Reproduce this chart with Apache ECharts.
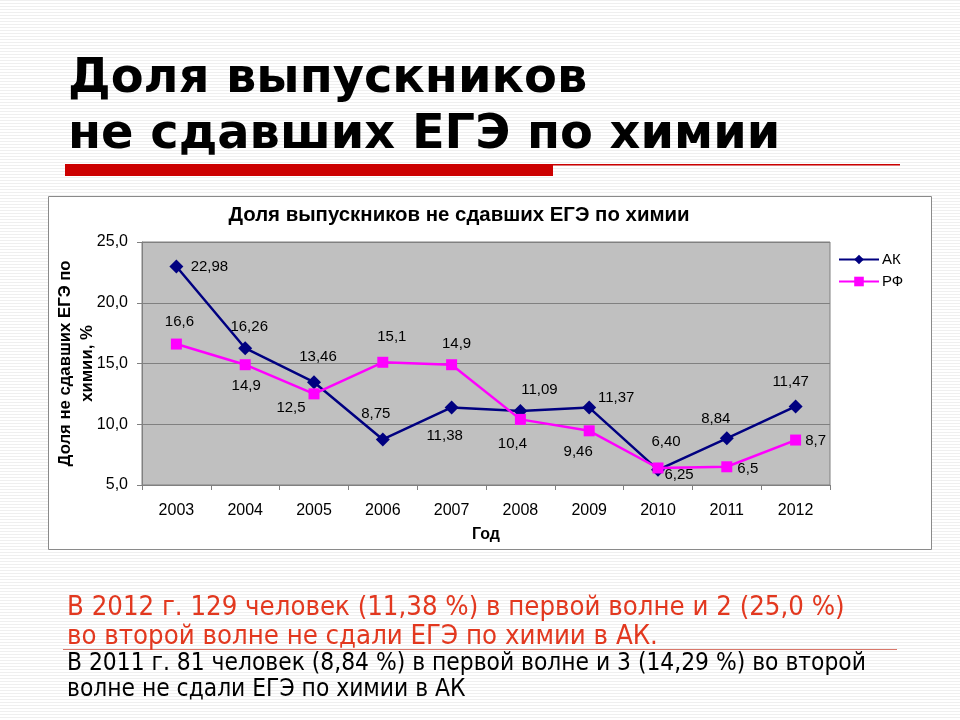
<!DOCTYPE html>
<html><head><meta charset="utf-8">
<script src="https://cdn.jsdelivr.net/npm/echarts@6/dist/echarts.min.js"></script>
<style>html,body{margin:0;padding:0;background:#fff}#c{width:960px;height:720px}</style>
</head><body><div id="c"></div>
<script>
// ---- data ----
const years = ['2003','2004','2005','2006','2007','2008','2009','2010','2011','2012'];
const akValues = ['22.98','16.26','13.46','8.75','11.38','11.09','11.37','6.25','8.84','11.47'];
const rfValues = ['16.6','14.9','12.5','15.1','14.9','10.4','9.46','6.40','6.5','8.7'];
const seriesNames = ['АК','РФ'];
const yMin = 5, yMax = 25, yStep = 5;
const slideTitle = ['Доля выпускников', 'не сдавших ЕГЭ по химии'];
const chartTitle = 'Доля выпускников не сдавших ЕГЭ по химии';
const yName = 'Доля не сдавших ЕГЭ по\nхимии, %';
const xName = 'Год';
const noteRed = ['В 2012 г. 129 человек (11,38 %) в первой волне и 2 (25,0 %)', 'во второй волне не сдали ЕГЭ по химии в АК.'];
const noteBlack = ['В 2011 г. 81 человек (8,84 %) в первой волне и 3 (14,29 %) во второй', 'волне не сдали ЕГЭ по химии в АК'];

// ---- label placement (style) ----
const akOffsets = [[33,0],[4,-21],[4,-25],[-7,-26],[-7,28],[19,-21],[27,-10],[21,5],[-11,-19],[-5,-25]];
const rfOffsets = [[3,-22],[1,21],[-23,14],[9,-25],[5,-21],[-8,24],[-11,21],[8,-26],[21,2],[20,1]];

// ---- helpers ----
const mctx = document.createElement('canvas').getContext('2d');
function fit(text, weight, family, width) {
  mctx.font = weight + ' 100px ' + family;
  return 100 * width / mctx.measureText(text).width;
}
const ARIAL = '"Liberation Sans", Arial, sans-serif';
const VERD = '"DejaVu Sans", Verdana, sans-serif';
const TAHO = '"DejaVu Sans Condensed", "DejaVu Sans", sans-serif';

const titleSize = fit(slideTitle[1], 'bold', VERD, 713);
const chartTitleSize = fit(chartTitle, 'bold', ARIAL, 462);
const yNameSize = fit('Доля не сдавших ЕГЭ по', 'bold', ARIAL, 206);
const redSize = fit(noteRed[0], 'normal', TAHO, 779);
const blackSize = fit(noteBlack[0], 'normal', TAHO, 800);

// background stripes
const pat = document.createElement('canvas');
pat.width = 4; pat.height = 3;
const pc = pat.getContext('2d');
pc.fillStyle = '#ffffff'; pc.fillRect(0,0,4,3);
pc.fillStyle = '#efefef'; pc.fillRect(0,0,4,1);

function mkData(vals, offs) {
  return vals.map((s, i) => ({
    value: Number(s),
    label: { offset: offs[i], formatter: s.replace('.', ',') }
  }));
}
const labelStyle = {
  show: true, position: 'inside', color: '#000', fontSize: 15,
  fontFamily: ARIAL, textBorderWidth: 0, textShadowBlur: 0
};

const chart = echarts.init(document.getElementById('c'), null, {renderer: 'canvas'});
chart.setOption({
  backgroundColor: { image: pat, repeat: 'repeat' },
  animation: false,
  graphic: [
    { type: 'text', z: 10, left: 68, top: 56, style: { text: slideTitle[0], font: 'bold ' + titleSize.toFixed(1) + 'px ' + VERD, fill: '#000' } },
    { type: 'text', z: 10, left: 68, top: 112, style: { text: slideTitle[1], font: 'bold ' + titleSize.toFixed(1) + 'px ' + VERD, fill: '#000' } },
    { type: 'rect', z: 5, shape: { x: 65, y: 164, width: 488, height: 12 }, style: { fill: '#CC0000' } },
    { type: 'rect', z: 5, shape: { x: 553, y: 164, width: 347, height: 1.5 }, style: { fill: '#CC0000' } },
    { type: 'rect', z: -10, shape: { x: 48.5, y: 196.5, width: 883, height: 353 }, style: { fill: '#ffffff', stroke: '#8a8a8a', lineWidth: 1 } },
    { type: 'text', z: 10, x: 459, y: 215, style: { text: chartTitle, font: 'bold ' + chartTitleSize.toFixed(1) + 'px ' + ARIAL, fill: '#000', textAlign: 'center', textVerticalAlign: 'middle' } },
    { type: 'text', z: 10, x: 67, y: 608, style: { text: noteRed[0], font: redSize.toFixed(1) + 'px ' + TAHO, fill: '#E2381F', textVerticalAlign: 'middle' } },
    { type: 'text', z: 10, x: 67, y: 637, style: { text: noteRed[1], font: redSize.toFixed(1) + 'px ' + TAHO, fill: '#E2381F', textVerticalAlign: 'middle' } },
    { type: 'rect', z: 5, shape: { x: 63, y: 649, width: 834, height: 1 }, style: { fill: '#D9776A' } },
    { type: 'text', z: 10, x: 67, y: 664, style: { text: noteBlack[0], font: blackSize.toFixed(1) + 'px ' + TAHO, fill: '#000', textVerticalAlign: 'middle' } },
    { type: 'text', z: 10, x: 67, y: 690, style: { text: noteBlack[1], font: blackSize.toFixed(1) + 'px ' + TAHO, fill: '#000', textVerticalAlign: 'middle' } }
  ],
  grid: { left: 142, top: 242, width: 688, height: 243, show: true, backgroundColor: '#C0C0C0', borderColor: '#808080', borderWidth: 1, containLabel: false },
  legend: {
    left: 833, top: 247, orient: 'vertical', itemWidth: 40, itemHeight: 12, itemGap: 7,
    textStyle: { fontSize: 15, fontFamily: ARIAL, color: '#000', padding: [0,0,0,-2] },
    data: seriesNames
  },
  xAxis: {
    type: 'category', data: years, boundaryGap: true,
    name: xName, nameLocation: 'middle', nameGap: 42, nameMoveOverlap: false,
    nameTextStyle: { fontWeight: 'bold', fontSize: 16, fontFamily: ARIAL, color: '#000' },
    axisLine: { show: true, lineStyle: { color: '#808080', width: 1 } },
    axisTick: { show: true, length: 5, interval: 0, lineStyle: { color: '#808080' } },
    axisLabel: { fontSize: 16, fontFamily: ARIAL, color: '#000', margin: 18, interval: 0 },
    splitLine: { show: false }
  },
  yAxis: {
    type: 'value', min: yMin, max: yMax, interval: yStep,
    name: yName, nameLocation: 'middle', nameGap: 44, nameMoveOverlap: false,
    nameTextStyle: { fontWeight: 'bold', fontSize: yNameSize, lineHeight: 22, fontFamily: ARIAL, color: '#000' },
    axisLine: { show: true, lineStyle: { color: '#808080', width: 1 } },
    axisTick: { show: true, length: 5, lineStyle: { color: '#808080' } },
    axisLabel: { fontSize: 16, fontFamily: ARIAL, color: '#000', margin: 14, formatter: v => v.toFixed(1).replace('.', ',') },
    splitLine: { show: true, lineStyle: { color: '#808080', width: 1 } }
  },
  series: [
    { name: seriesNames[0], type: 'line', data: mkData(akValues, akOffsets), symbol: 'diamond', symbolSize: 14,
      lineStyle: { color: '#000080', width: 2.5 }, itemStyle: { color: '#000080' }, label: labelStyle, z: 2 },
    { name: seriesNames[1], type: 'line', data: mkData(rfValues, rfOffsets), symbol: 'rect', symbolSize: 11,
      lineStyle: { color: '#FF00FF', width: 2.5 }, itemStyle: { color: '#FF00FF' }, label: labelStyle, z: 3 }
  ]
});
</script>
</body></html>
